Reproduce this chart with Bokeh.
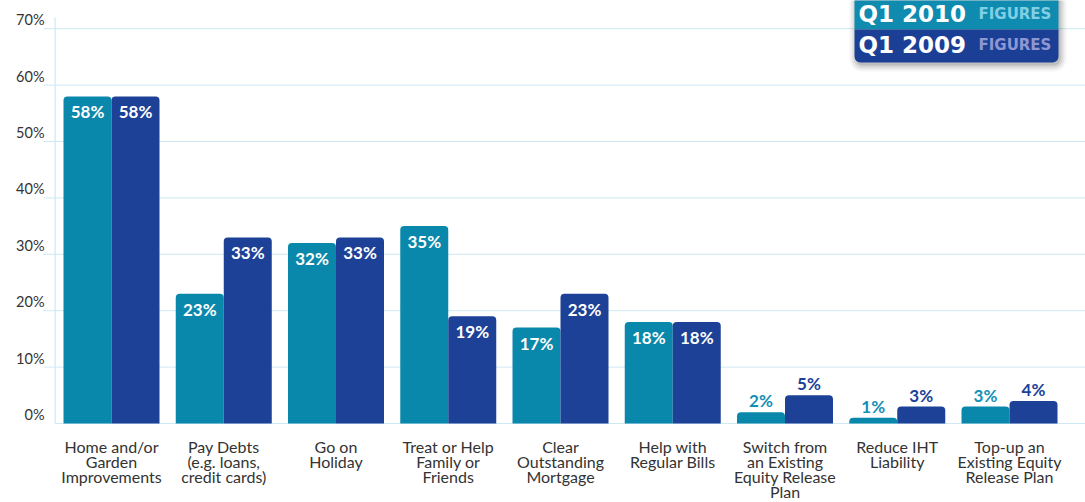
from bokeh.plotting import figure
from bokeh.models import Range1d, ColumnDataSource
from bokeh.core.properties import value
from bokeh.embed import file_html
from bokeh.resources import INLINE

categories = [
    "Home and/or\nGarden\nImprovements",
    "Pay Debts\n(e.g. loans,\ncredit cards)",
    "Go on\nHoliday",
    "Treat or Help\nFamily or\nFriends",
    "Clear\nOutstanding\nMortgage",
    "Help with\nRegular Bills",
    "Switch from\nan Existing\nEquity Release\nPlan",
    "Reduce IHT\nLiability",
    "Top-up an\nExisting Equity\nRelease Plan",
]
q1_2010 = [58, 23, 32, 35, 17, 18, 2, 1, 3]
q1_2009 = [58, 33, 33, 19, 23, 18, 5, 3, 4]
y_ticks = [0, 10, 20, 30, 40, 50, 60, 70]
y_tick_labels = ["0%", "10%", "20%", "30%", "40%", "50%", "60%", "70%"]
series_names = ["Q1 2010", "Q1 2009"]

TEAL = "#0a88ab"
NAVY = "#1c4197"
GRID = "#cde9f4"

W, H = 1085, 502
BASE = 423       # pixel row of 0%
PITCH = 112.25   # pixels per category
C0 = 111         # pixel column of first category centre
XR = (-C0 / PITCH, (W - C0) / PITCH)
SY = BASE / 75.0
YR = (75.0 - H / SY, 75.0)
SX = PITCH


def X(px):
    return XR[0] + px / SX


def Y(py):
    return YR[1] - py / SY


p = figure(width=W, height=H, output_backend="svg", toolbar_location=None,
           x_range=Range1d(*XR), y_range=Range1d(*YR),
           x_axis_location=None, y_axis_location=None,
           min_border_left=0, min_border_right=0, min_border_top=0,
           min_border_bottom=0)
p.outline_line_color = None
p.background_fill_color = "white"
p.border_fill_color = "white"
p.grid.visible = False

# gridlines (extend a little left of the axis line)
p.segment(x0=[X(43) if t > 0 else X(54.6) for t in y_ticks], y0=y_ticks,
          x1=[XR[1]] * len(y_ticks), y1=y_ticks, line_color=GRID, line_width=1)
# y axis line
p.segment(x0=[X(54.6)], y0=[0], x1=[X(54.6)], y1=[Y(17)], line_color=GRID,
          line_width=1.2)
# y tick labels, sitting above their gridlines
p.text(x=[X(44)] * len(y_ticks), y=y_ticks, text=y_tick_labels,
       text_align="right", text_baseline="middle", y_offset=-9,
       text_color="#333333", text_font=value("Lato"), text_font_size="14.5px")

xt = list(range(len(categories)))
# category labels below baseline
p.text(x=xt, y=[Y(436)] * len(xt), text=categories, text_align="center",
       text_baseline="top", text_color="#333333", text_font=value("Lato"),
       text_font_size="16px", text_line_height=0.8)

BW = 48 / SX
OFF = BW / 2

src = ColumnDataSource(dict(
    x10=[i - OFF for i in xt], x09=[i + OFF for i in xt],
    v10=q1_2010, v09=q1_2009,
))

p.vbar(x="x10", top="v10", width=BW, source=src, fill_color=TEAL,
       line_color=None, border_radius=(4, 4, 0, 0))
p.vbar(x="x09", top="v09", width=BW, source=src, fill_color=NAVY,
       line_color=None, border_radius=(4, 4, 0, 0))

# value labels
for xs, vals, col in [([i - OFF for i in xt], q1_2010, "#1490b5"),
                      ([i + OFF for i in xt], q1_2009, NAVY)]:
    inx = [x for x, v in zip(xs, vals) if v >= 10]
    iny = [v for v in vals if v >= 10]
    outx = [x for x, v in zip(xs, vals) if v < 10]
    outy = [v for v in vals if v < 10]
    p.text(x=inx, y=iny, text=[f"{v}%" for v in iny], text_align="center",
           text_baseline="top", y_offset=5, text_color="white",
           text_font=value("Lato"), text_font_style="bold", text_font_size="17px")
    p.text(x=outx, y=outy, text=[f"{v}%" for v in outy], text_align="center",
           text_baseline="bottom", y_offset=-1, text_color=col,
           text_font=value("Lato"), text_font_style="bold", text_font_size="17px")

# legend box (top right)
for k, a in [(7, 0.04), (5, 0.06), (3, 0.08), (1, 0.10)]:
    p.quad(left=X(854 - k + 2), right=X(1058 + k + 1), top=Y(-10), bottom=Y(62 + k + 2),
           fill_color="#000000", fill_alpha=a, line_color=None,
           border_radius=(0, 0, 6 + k, 6 + k))
p.quad(left=X(854), right=X(1058), top=Y(-10), bottom=Y(29),
       fill_color="#0f8bb0", line_color=None)
p.quad(left=X(854), right=X(1058), top=Y(29), bottom=Y(62),
       fill_color="#1c3f96", line_color=None, border_radius=(0, 0, 6, 6))
p.text(x=[X(858), X(858)], y=[Y(13), Y(44)], text=series_names,
       text_baseline="middle", text_color="white",
       text_font=value("DejaVu Sans"), text_font_style="bold",
       text_font_size="23px")
p.text(x=[X(978)], y=[Y(13.5)], text=["FIGURES"], text_baseline="middle",
       text_color="#80cfe4", text_font=value("DejaVu Sans"),
       text_font_style="bold", text_font_size="15px")
p.text(x=[X(978)], y=[Y(44)], text=["FIGURES"], text_baseline="middle",
       text_color="#8f97d3", text_font=value("DejaVu Sans"),
       text_font_style="bold", text_font_size="15px")

open("out.html", "w").write(file_html(p, INLINE))
